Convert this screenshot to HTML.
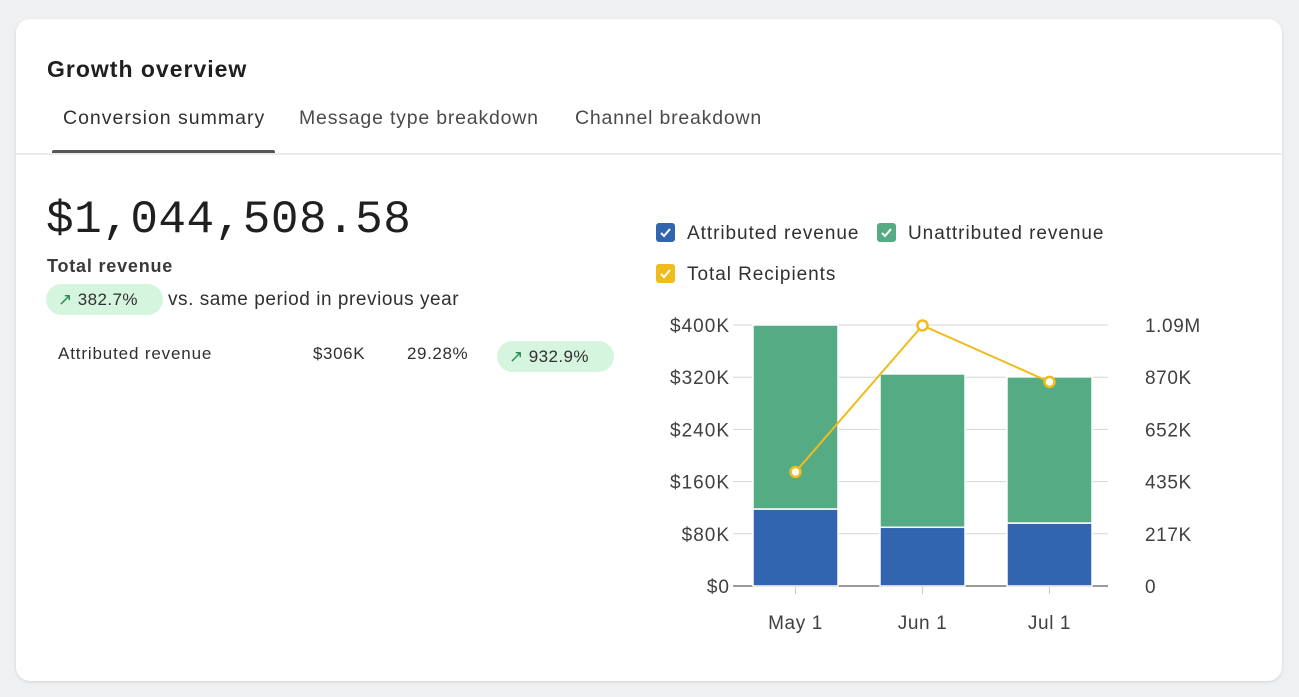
<!DOCTYPE html>
<html><head><meta charset="utf-8"><style>
body{margin:0;width:1299px;height:697px;background:#eff0f2;font-family:"Liberation Sans",sans-serif;overflow:hidden;position:relative}
.card{position:absolute;left:16px;top:19px;width:1266px;height:662px;background:#fff;border-radius:14px;box-shadow:0 1px 3px rgba(0,0,0,.12)}
.abs{position:absolute;white-space:nowrap}
.pill{position:absolute;background:#d5f5df;border-radius:16px;height:31px;color:#303030;font-size:17px;line-height:31px;letter-spacing:0.4px}
</style></head><body>
<div class="card">
<div class="abs" style="left:31px;top:37px;font-size:23px;color:#1f1f1f;font-weight:600;letter-spacing:1px">Growth overview</div>
<div class="abs" style="left:47px;top:88px;font-size:19.5px;color:#303030;letter-spacing:1px">Conversion summary</div>
<div class="abs" style="left:283px;top:88px;font-size:19.5px;color:#4a4a4a;letter-spacing:0.8px">Message type breakdown</div>
<div class="abs" style="left:559px;top:88px;font-size:19.5px;color:#4a4a4a;letter-spacing:0.8px">Channel breakdown</div>
<div class="abs" style="left:36px;top:131px;width:223px;height:4px;background:#555;border-radius:2px 2px 0 0"></div>
<div class="abs" style="left:0;top:134px;width:1266px;height:2px;background:#ebebeb"></div>
<div class="abs" style="left:30px;top:175px;font-family:'Liberation Mono',monospace;font-size:46px;color:#1f1f1f;letter-spacing:0.5px">$1,044,508.58</div>
<div class="abs" style="left:31px;top:237px;font-size:18px;font-weight:600;color:#3a3a3a;letter-spacing:0.8px">Total revenue</div>
<div class="pill" style="left:30px;top:265px;width:117px"><span style="color:#2a8a50;margin-left:12px">&#8599;</span> 382.7%</div>
<div class="abs" style="left:152px;top:270px;font-size:19px;color:#303030;letter-spacing:0.55px">vs. same period in previous year</div>
<div class="abs" style="left:42px;top:325px;font-size:17px;color:#303030;letter-spacing:0.85px">Attributed revenue</div>
<div class="abs" style="left:297px;top:325px;font-size:17px;color:#303030;letter-spacing:0.6px">$306K</div>
<div class="abs" style="left:391px;top:325px;font-size:17px;color:#303030;letter-spacing:0.6px">29.28%</div>
<div class="pill" style="left:481px;top:322px;width:117px"><span style="color:#2a8a50;margin-left:12px">&#8599;</span> 932.9%</div>
</div>
<svg id="chart" width="1299" height="697" style="position:absolute;left:0;top:0"></svg>
<script>
const categories=["May 1","Jun 1","Jul 1"];
const attributed=[118000,90000,96500];
const unattributed=[282000,235000,224000];
const recipients=[475000,1085000,850000];
const leftTicks=[0,80000,160000,240000,320000,400000];
const leftTickLabels=["$0","$80K","$160K","$240K","$320K","$400K"];
const rightTickLabels=["0","217K","435K","652K","870K","1.09M"];
const legendLabels=["Attributed revenue","Unattributed revenue","Total Recipients"];
const NS="http://www.w3.org/2000/svg",svg=document.getElementById("chart");
const y0=586,y1=325,x0=732,x1=1113,gridEnd=1108,rMax=1087000;
const yL=v=>y0-(v/400000)*(y0-y1);
const yR=v=>y0-(v/rMax)*(y0-y1);
const band=(x1-x0)/categories.length;
const xC=i=>x0+band*(i+0.5);
function mk(t,a,txt){const e=document.createElementNS(NS,t);for(const k in a)e.setAttribute(k,a[k]);if(txt!=null)e.textContent=txt;svg.appendChild(e);return e;}
const colors=["#3165b0","#55ab84","#f0bb1c"];
legendLabels.forEach((l,i)=>{const lx=i==1?877:656,ly=i==2?264:223;
const b=mk("rect",{x:lx,y:ly,width:19,height:19,rx:3,fill:colors[i]});


mk("path",{d:`M${lx+5} ${ly+10}l3 3l6-7`,stroke:"#fff","stroke-width":2,fill:"none"});
const t=mk("text",{x:lx+31,y:ly+16,"font-size":19,fill:"#303030","letter-spacing":"0.95"},l);

});
leftTicks.forEach((v,i)=>{const y=yL(v);
const g=mk("line",{x1:x0+1,x2:gridEnd,y1:y,y2:y,stroke:i==0?"#9a9a9a":"#d5d5d5","stroke-width":i==0?2:1});


const t=mk("text",{x:730,y:y+7,"text-anchor":"end","font-size":19,fill:"#404040","letter-spacing":"1"},leftTickLabels[i]);


const r=mk("text",{x:1145,y:y+7,"font-size":19,fill:"#404040","letter-spacing":"0.6"},rightTickLabels[i]);

});
const bw=85;
categories.forEach((c,i)=>{const x=xC(i)-bw/2;
const a=mk("rect",{x:x,y:yL(attributed[i]),width:bw,height:y0-yL(attributed[i]),fill:colors[0],stroke:"#fff","stroke-width":1.5});


const top=attributed[i]+unattributed[i];
const u=mk("rect",{x:x,y:yL(top),width:bw,height:yL(attributed[i])-yL(top),fill:colors[1],stroke:"#fff","stroke-width":1.5});


mk("line",{x1:xC(i),x2:xC(i),y1:y0+1,y2:y0+8,stroke:"#ccc"});
const t=mk("text",{x:xC(i),y:629,"text-anchor":"middle","font-size":19,fill:"#404040","letter-spacing":"0.6"},c);

});
const ln=mk("polyline",{points:recipients.map((v,i)=>xC(i)+","+yR(v)).join(" "),fill:"none",stroke:colors[2],"stroke-width":2});


recipients.forEach((v,i)=>{const p=mk("circle",{cx:xC(i),cy:yR(v),r:5,fill:"#fff",stroke:colors[2],"stroke-width":2.5});

});
</script>
</body></html>
